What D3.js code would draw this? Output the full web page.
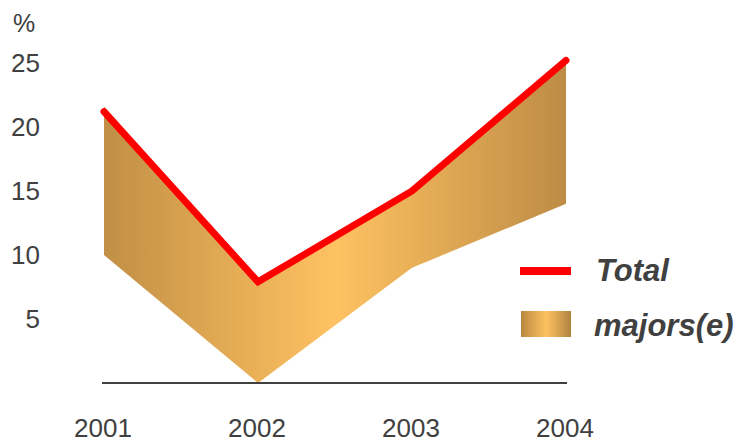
<!DOCTYPE html>
<html><head><meta charset="utf-8">
<script src="https://cdn.jsdelivr.net/npm/d3@7"></script>
<style>body{margin:0;background:#fff}svg{display:block}</style>
</head><body>
<script>
const years = ["2001","2002","2003","2004"];
const total = [21.2, 7.9, 15.0, 25.2];
const majorsLow = [10.0, 0.0, 9.0, 14.0];
const majorsHigh = [21.6, 7.9, 15.0, 25.5];
const yTicks = [5,10,15,20,25];

const W=739,H=443;
const svg=d3.select("body").append("svg").attr("width",W).attr("height",H);
const x=d3.scalePoint().domain(years).range([104,566]);
const y=d3.scaleLinear().domain([0,25]).range([383,63]);
const font="'Liberation Sans', Arial, sans-serif";

const defs=svg.append("defs");
const g1=defs.append("linearGradient").attr("id","ag").attr("gradientUnits","userSpaceOnUse")
  .attr("x1",104).attr("x2",566).attr("y1",0).attr("y2",0);
[[0,"#C18F45"],[0.5,"#FFC262"],[1,"#BD8C45"]].forEach(s=>g1.append("stop").attr("offset",s[0]).attr("stop-color",s[1]));
const g2=defs.append("linearGradient").attr("id","lg");
[[0,"#B8873F"],[0.5,"#FFC262"],[1,"#B08240"]].forEach(s=>g2.append("stop").attr("offset",s[0]).attr("stop-color",s[1]));

const data=years.map((d,i)=>({yr:d,lo:majorsLow[i],hi:majorsHigh[i],t:total[i]}));
svg.append("path").datum(data)
  .attr("d",d3.area().x(d=>x(d.yr)).y0(d=>y(d.lo)).y1(d=>y(d.hi)))
  .attr("fill","url(#ag)");

svg.append("line").attr("x1",102).attr("x2",567).attr("y1",y(0)).attr("y2",y(0))
  .attr("stroke","#404040").attr("stroke-width",2);

svg.append("path").datum(data)
  .attr("d",d3.line().x(d=>x(d.yr)).y(d=>y(d.t)))
  .attr("fill","none").attr("stroke","#FF0000").attr("stroke-width",7)
  .attr("stroke-linejoin","miter").attr("stroke-linecap","round");

svg.selectAll(".yt").data(yTicks).enter().append("text")
  .attr("x",40).attr("y",d=>y(d)).attr("dy","0.36em").attr("text-anchor","end")
  .attr("font-family",font).attr("font-size",26).attr("fill","#404040").text(d=>d);
svg.append("text").attr("x",13).attr("y",32).attr("font-family",font).attr("font-size",25)
  .attr("fill","#404040").text("%");

svg.selectAll(".xt").data(years).enter().append("text")
  .attr("x",d=>x(d)-1).attr("y",437).attr("text-anchor","middle")
  .attr("font-family",font).attr("font-size",26).attr("fill","#404040").text(d=>d);

// legend
svg.append("rect").attr("x",520).attr("y",267).attr("width",51).attr("height",8).attr("fill","#FF0000");
svg.append("text").attr("x",596).attr("y",281).attr("font-family",font).attr("font-size",31)
  .attr("font-weight","bold").attr("font-style","italic").attr("fill","#404040").text("Total");
svg.append("rect").attr("x",521).attr("y",311).attr("width",50).attr("height",26).attr("fill","url(#lg)");
svg.append("text").attr("x",594).attr("y",336).attr("font-family",font).attr("font-size",31)
  .attr("font-weight","bold").attr("font-style","italic").attr("fill","#404040").text("majors(e)");
</script>
</body></html>
